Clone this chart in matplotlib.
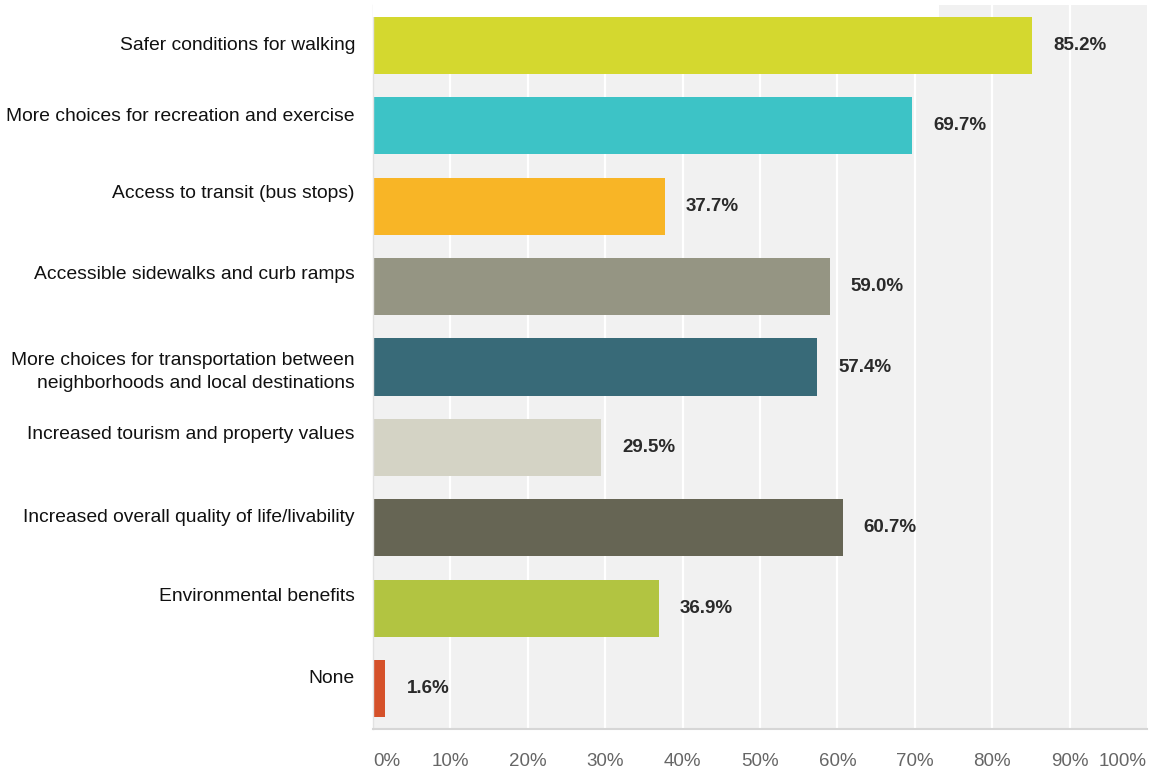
import matplotlib
matplotlib.use("Agg")
import matplotlib.pyplot as plt
from matplotlib.patches import Rectangle

categories = [
    "Safer conditions for walking",
    "More choices for recreation and exercise",
    "Access to transit (bus stops)",
    "Accessible sidewalks and curb ramps",
    "More choices for transportation between\nneighborhoods and local destinations",
    "Increased tourism and property values",
    "Increased overall quality of life/livability",
    "Environmental benefits",
    "None",
]
values = [85.2, 69.7, 37.7, 59.0, 57.4, 29.5, 60.7, 36.9, 1.6]
colors = ["#d4d82f", "#3dc3c6", "#f8b526", "#959583", "#386a78",
          "#d4d3c5", "#666554", "#b2c441", "#d5512a"]
xticks = list(range(0, 101, 10))
xtick_labels = [f"{t}%" for t in xticks]

# vertical nudge (pixels, image-down positive) of category labels
label_nudge_px = [0, -9, -13, -12, 5, -13, -10, -12, -10]

W, H = 1149, 771
fig = plt.figure(figsize=(W / 100, H / 100), dpi=100)
fig.patch.set_facecolor("white")
ax = fig.add_axes([373 / W, 1 - 729 / H, (1147 - 373) / W, (729 - 5) / H])
ax.set_facecolor("#f1f1f1")
font = "Liberation Sans"

ypos = list(range(len(categories)))
for x in xticks[1:-1]:
    ax.axvline(x, color="white", lw=1.6, zorder=1)
ax.barh(ypos, values, height=0.71, color=colors, zorder=2)

ax.set_xlim(0, 100)
ax.set_ylim(len(categories) - 0.5, -0.5)
ax.set_yticks([])
ax.set_xticks(xticks)
ax.set_xticklabels(xtick_labels, fontsize=13.5, color="#666666", family=font)
ax.tick_params(axis="x", length=0, pad=17)
tl = ax.get_xticklabels()
tl[0].set_ha("left")
tl[-1].set_ha("right")

for s in ["top", "right"]:
    ax.spines[s].set_visible(False)
ax.spines["bottom"].set_color("#d6d6d6")
ax.spines["bottom"].set_linewidth(1.5)
ax.spines["left"].set_color("#e2e2e2")
ax.spines["left"].set_linewidth(1.0)

for i, (cat, v) in enumerate(zip(categories, values)):
    ax.annotate(cat, xy=(0, i), xycoords=("axes fraction", "data"),
                xytext=(-18, -label_nudge_px[i]), textcoords="offset pixels",
                ha="right", va="center", fontsize=13.9, color="#111111",
                family=font, linespacing=1.4)
    ax.annotate(f"{v:.1f}%", xy=(v, i), xycoords="data",
                xytext=(21, 0), textcoords="offset pixels",
                ha="left", va="center", fontsize=13.5, fontweight="bold",
                color="#2a2a2a", family=font)

# white strip covering the top-left part of the plot background
fig.patches.append(Rectangle((373 / W, 1 - 17 / H), (939 - 373) / W, 17 / H,
                             transform=fig.transFigure, facecolor="white",
                             edgecolor="none", zorder=5))

fig.savefig("out.png", dpi=100)
